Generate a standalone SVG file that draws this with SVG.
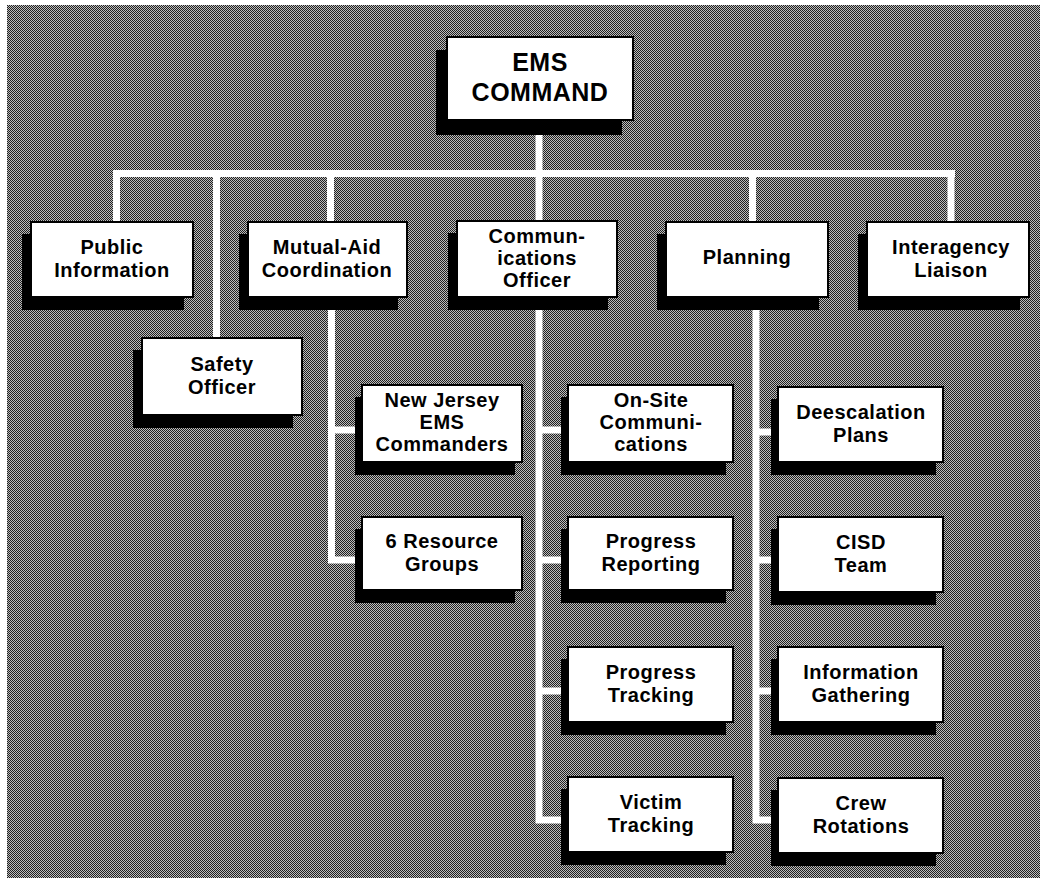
<svg xmlns="http://www.w3.org/2000/svg" width="1048" height="883" viewBox="0 0 1048 883">
<defs>
<pattern id="dither" width="2" height="2" patternUnits="userSpaceOnUse">
<rect width="2" height="2" fill="#bdbdbd"/>
<rect width="1" height="1" fill="#202020"/>
<rect x="1" y="1" width="1" height="1" fill="#202020"/>
</pattern>
</defs>
<style>
.sh{fill:#000}
.bx{fill:#fff;stroke:#000;stroke-width:2}
.t{font-family:"Liberation Sans",Arial,sans-serif;font-weight:bold;font-size:20px;letter-spacing:0.5px;fill:#000;text-anchor:middle}
.tl{font-size:25px}
.c{stroke:#fff;stroke-width:7;fill:none;stroke-linecap:butt}
</style>
<rect x="0" y="0" width="1048" height="883" fill="#fff"/>
<rect x="7" y="5" width="1033" height="873" fill="url(#dither)"/>
<g id="connectors">
<path class="c" d="M539,120 V222 M113,173.5 H955 M116.5,170 V222 M216.5,170 V338 M330.5,170 V222 M752.5,170 V222 M951,170 V222"/>
<path class="c" d="M331.5,297 V563 M328,430 H362 M328,560 H362"/>
<path class="c" d="M539,297 V823.5 M535.5,430 H568 M535.5,560 H568 M535.5,691 H568 M535.5,820 H568"/>
<path class="c" d="M756,297 V823.5 M752.5,432 H778 M752.5,560 H778 M752.5,691 H778 M752.5,820 H778"/>
</g>
<g id="ems-command">
<rect class="sh" x="436" y="50" width="186" height="85"/>
<rect class="bx" x="447" y="37" width="186" height="83"/>
<text class="t tl" x="540" y="71">EMS</text>
<text class="t tl" x="540" y="101">COMMAND</text>
</g>
<g id="public-information">
<rect class="sh" x="22" y="234" width="162" height="76"/>
<rect class="bx" x="31" y="222" width="162" height="75"/>
<text class="t" x="112" y="254">Public</text>
<text class="t" x="112" y="277">Information</text>
</g>
<g id="mutual-aid">
<rect class="sh" x="239" y="234" width="159" height="76"/>
<rect class="bx" x="248" y="222" width="159" height="75"/>
<text class="t" x="327" y="254">Mutual-Aid</text>
<text class="t" x="327" y="277">Coordination</text>
</g>
<g id="communications-officer">
<rect class="sh" x="448" y="233" width="160" height="77"/>
<rect class="bx" x="457" y="221" width="160" height="76"/>
<text class="t" x="537" y="243">Commun-</text>
<text class="t" x="537" y="265">ications</text>
<text class="t" x="537" y="287">Officer</text>
</g>
<g id="planning">
<rect class="sh" x="657" y="234" width="162" height="76"/>
<rect class="bx" x="666" y="222" width="162" height="75"/>
<text class="t" x="747" y="264">Planning</text>
</g>
<g id="interagency-liaison">
<rect class="sh" x="858" y="234" width="162" height="76"/>
<rect class="bx" x="867" y="222" width="162" height="75"/>
<text class="t" x="951" y="254">Interagency</text>
<text class="t" x="951" y="277">Liaison</text>
</g>
<g id="safety-officer">
<rect class="sh" x="133" y="350" width="160" height="78"/>
<rect class="bx" x="142" y="338" width="160" height="77"/>
<text class="t" x="222" y="371">Safety</text>
<text class="t" x="222" y="394">Officer</text>
</g>
<g id="nj-ems-commanders">
<rect class="sh" x="355" y="397" width="160" height="78"/>
<rect class="bx" x="362" y="385" width="160" height="77"/>
<text class="t" x="442" y="407">New Jersey</text>
<text class="t" x="442" y="429">EMS</text>
<text class="t" x="442" y="451">Commanders</text>
</g>
<g id="resource-groups">
<rect class="sh" x="355" y="529" width="160" height="74"/>
<rect class="bx" x="362" y="517" width="160" height="73"/>
<text class="t" x="442" y="548">6 Resource</text>
<text class="t" x="442" y="571">Groups</text>
</g>
<g id="on-site-communications">
<rect class="sh" x="561" y="397" width="165" height="78"/>
<rect class="bx" x="568" y="385" width="165" height="77"/>
<text class="t" x="651" y="407">On-Site</text>
<text class="t" x="651" y="429">Communi-</text>
<text class="t" x="651" y="451">cations</text>
</g>
<g id="progress-reporting">
<rect class="sh" x="561" y="529" width="165" height="74"/>
<rect class="bx" x="568" y="517" width="165" height="73"/>
<text class="t" x="651" y="548">Progress</text>
<text class="t" x="651" y="571">Reporting</text>
</g>
<g id="progress-tracking">
<rect class="sh" x="561" y="659" width="165" height="76"/>
<rect class="bx" x="568" y="647" width="165" height="75"/>
<text class="t" x="651" y="679">Progress</text>
<text class="t" x="651" y="702">Tracking</text>
</g>
<g id="victim-tracking">
<rect class="sh" x="561" y="789" width="165" height="76"/>
<rect class="bx" x="568" y="777" width="165" height="75"/>
<text class="t" x="651" y="809">Victim</text>
<text class="t" x="651" y="832">Tracking</text>
</g>
<g id="deescalation-plans">
<rect class="sh" x="771" y="399" width="165" height="76"/>
<rect class="bx" x="778" y="387" width="165" height="75"/>
<text class="t" x="861" y="419">Deescalation</text>
<text class="t" x="861" y="442">Plans</text>
</g>
<g id="cisd-team">
<rect class="sh" x="771" y="529" width="165" height="76"/>
<rect class="bx" x="778" y="517" width="165" height="75"/>
<text class="t" x="861" y="549">CISD</text>
<text class="t" x="861" y="572">Team</text>
</g>
<g id="information-gathering">
<rect class="sh" x="771" y="659" width="165" height="76"/>
<rect class="bx" x="778" y="647" width="165" height="75"/>
<text class="t" x="861" y="679">Information</text>
<text class="t" x="861" y="702">Gathering</text>
</g>
<g id="crew-rotations">
<rect class="sh" x="771" y="790" width="165" height="76"/>
<rect class="bx" x="778" y="778" width="165" height="75"/>
<text class="t" x="861" y="810">Crew</text>
<text class="t" x="861" y="833">Rotations</text>
</g>
</svg>
